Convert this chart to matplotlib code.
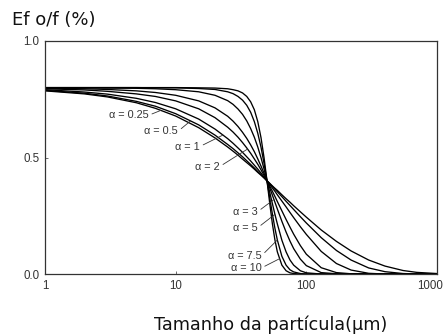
import numpy as np
import matplotlib
matplotlib.use("Agg")
import matplotlib.pyplot as plt
import matplotlib.transforms as mtransforms

# particle size (µm)
sizes = [1, 2, 3, 5, 7, 10, 15, 20, 25, 27.5, 30, 32.5, 35, 37.5, 40, 42.5, 45, 47.5,
         50, 52.5, 55, 57.5, 60, 65, 70, 75, 80, 90, 100, 130, 170, 220, 300, 400,
         550, 700, 1000]

ef_a025 = [0.786, 0.773, 0.760, 0.735, 0.711, 0.678, 0.628, 0.584, 0.545, 0.527, 0.510,
           0.493, 0.478, 0.464, 0.450, 0.436, 0.424, 0.412, 0.400, 0.389, 0.378, 0.368,
           0.359, 0.340, 0.323, 0.308, 0.293, 0.267, 0.244, 0.189, 0.140, 0.099, 0.060,
           0.034, 0.015, 0.007, 0.002]
ef_a05 = [0.788, 0.776, 0.764, 0.741, 0.720, 0.688, 0.640, 0.596, 0.556, 0.538, 0.520,
          0.503, 0.486, 0.470, 0.455, 0.440, 0.426, 0.413, 0.400, 0.388, 0.376, 0.364,
          0.353, 0.332, 0.312, 0.294, 0.277, 0.246, 0.219, 0.156, 0.101, 0.060, 0.026,
          0.010, 0.002, 0.000, 0.000]
ef_a1 = [0.791, 0.781, 0.772, 0.754, 0.736, 0.709, 0.665, 0.622, 0.581, 0.561, 0.541,
         0.522, 0.503, 0.485, 0.467, 0.450, 0.433, 0.416, 0.400, 0.384, 0.369, 0.355,
         0.340, 0.313, 0.288, 0.264, 0.242, 0.203, 0.170, 0.097, 0.045, 0.017, 0.003,
         0.000, 0.000, 0.000, 0.000]
ef_a2 = [0.795, 0.790, 0.784, 0.773, 0.762, 0.743, 0.709, 0.671, 0.630, 0.609, 0.587,
         0.564, 0.541, 0.518, 0.494, 0.471, 0.447, 0.423, 0.400, 0.377, 0.355, 0.333,
         0.311, 0.271, 0.234, 0.201, 0.171, 0.122, 0.085, 0.027, 0.006, 0.001, 0.000,
         0.000, 0.000, 0.000, 0.000]
ef_a3 = [0.797, 0.795, 0.792, 0.786, 0.779, 0.767, 0.743, 0.713, 0.677, 0.656, 0.633,
         0.608, 0.582, 0.554, 0.525, 0.494, 0.463, 0.432, 0.400, 0.369, 0.338, 0.308,
         0.279, 0.226, 0.180, 0.141, 0.109, 0.064, 0.036, 0.006, 0.001, 0.000, 0.000,
         0.000, 0.000, 0.000, 0.000]
ef_a5 = [0.799, 0.799, 0.798, 0.797, 0.795, 0.791, 0.782, 0.767, 0.744, 0.728, 0.708,
         0.685, 0.657, 0.624, 0.587, 0.545, 0.499, 0.450, 0.400, 0.350, 0.302, 0.256,
         0.215, 0.145, 0.095, 0.060, 0.038, 0.014, 0.005, 0.000, 0.000, 0.000, 0.000,
         0.000, 0.000, 0.000, 0.000]
ef_a75 = [0.800, 0.800, 0.800, 0.800, 0.799, 0.799, 0.796, 0.792, 0.782, 0.774, 0.762,
          0.746, 0.724, 0.694, 0.654, 0.604, 0.544, 0.474, 0.400, 0.326, 0.257, 0.196,
          0.146, 0.076, 0.038, 0.018, 0.009, 0.002, 0.000, 0.000, 0.000, 0.000, 0.000,
          0.000, 0.000, 0.000, 0.000]
ef_a10 = [0.800, 0.800, 0.800, 0.800, 0.800, 0.800, 0.799, 0.798, 0.795, 0.791, 0.786,
          0.777, 0.762, 0.739, 0.705, 0.654, 0.585, 0.498, 0.400, 0.302, 0.215, 0.146,
          0.095, 0.038, 0.014, 0.005, 0.002, 0.000, 0.000, 0.000, 0.000, 0.000, 0.000,
          0.000, 0.000, 0.000, 0.000]

curve_labels = ["α = 0.25", "α = 0.5", "α = 1", "α = 2",
                "α = 3", "α = 5", "α = 7.5", "α = 10"]
curves = [ef_a025, ef_a05, ef_a1, ef_a2, ef_a3, ef_a5, ef_a75, ef_a10]

x_ticks = [1, 10, 100, 1000]
x_tick_labels = ["1", "10", "100", "1000"]
y_ticks = [0.0, 0.5, 1.0]
y_tick_labels = ["0.0", "0.5", "1.0"]

# ---------------------------------------------------------------
fig = plt.figure(figsize=(4.47, 3.36), dpi=100)
ax = fig.add_axes([0.1007, 0.1845, 0.8769, 0.6935])

for vals in curves:
    ax.plot(sizes, vals, color="black", lw=0.95, solid_capstyle="round")

ax.set_xscale("log")
ax.set_xlim(1, 1000)
ax.set_ylim(0, 1.0)
ax.set_xticks(x_ticks)
ax.set_xticklabels(x_tick_labels)
ax.set_yticks(y_ticks)
ax.set_yticklabels(y_tick_labels)
ax.minorticks_off()
ax.tick_params(direction="in", length=2, width=0.6, labelsize=8.3,
               labelcolor="#333333", color="#555555")
ax.tick_params(axis="x", pad=4.5)
ax.tick_params(axis="y", pad=4)
for lab in ax.get_xticklabels() + ax.get_yticklabels():
    lab.set_fontfamily("Liberation Sans")
# keep the last x label inside the figure edge
last = ax.get_xticklabels()[-1]
last.set_transform(last.get_transform() +
                   mtransforms.ScaledTranslation(-5 / 72, 0, fig.dpi_scale_trans))
for s in ax.spines.values():
    s.set_linewidth(0.9)
    s.set_color("#333333")

# annotation layout: (tip size on curve, text end size, text end value)
ann_layout = [(7.7, 6.2, 0.681), (13.0, 10.4, 0.612), (23.0, 15.3, 0.547),
              (35.5, 21.7, 0.461), (56.5, 42.3, 0.267), (57.5, 42.3, 0.198),
              (60.0, 45.3, 0.078), (62.5, 45.3, 0.026)]
logs = np.log10(sizes)
for lab, vals, (tip, tx, ty) in zip(curve_labels, curves, ann_layout):
    tip_y = np.interp(np.log10(tip), logs, vals)
    ax.annotate(lab, xy=(tip, tip_y), xytext=(tx, ty), textcoords="data",
                ha="right", va="center", fontsize=7.8, color="#333333",
                family="Liberation Sans",
                arrowprops=dict(arrowstyle="-", lw=0.6, color="#333333",
                                shrinkA=0.5, shrinkB=0, relpos=(1.0, 0.5)))

fig.text(0.027, 0.94, "Ef o/f (%)", fontsize=13, family="DejaVu Sans",
         ha="left", va="center", color="#111111")
fig.text(0.605, 0.033, "Tamanho da partícula(μm)", fontsize=12.7,
         family="DejaVu Sans", ha="center", va="center", color="#111111")

fig.savefig("out.png", dpi=100)
